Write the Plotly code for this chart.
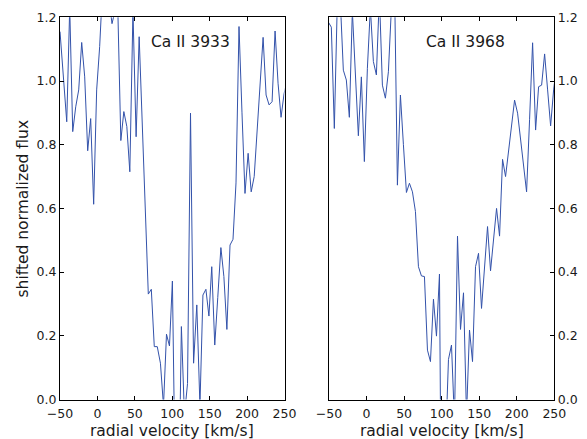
import plotly.graph_objects as go

# ---- data ----
v_3933 = [-50.0, -45.5, -41.0, -37.0, -33.0, -29.0, -25.0, -21.0, -17.0, -13.0,
          -9.0, -5.0, -1.0, 3.0, 7.0, 11.0, 15.5, 19.5, 23.5, 27.5,
          31.3, 35.3, 39.3, 43.3, 47.5, 51.7, 55.8, 59.8, 63.8, 68.0,
          72.0, 76.0, 80.0, 84.2, 88.3, 92.3, 96.3, 100.2, 104.2, 108.2,
          112.2, 116.3, 120.4, 124.4, 128.5, 132.8, 137.0, 141.0, 145.0, 149.0,
          152.8, 156.8, 160.8, 165.0, 169.0, 173.0, 177.2, 181.2, 185.2, 189.2,
          193.2, 197.2, 201.4, 205.5, 209.5, 213.4, 217.4, 221.4, 225.4, 229.4,
          233.4, 237.4, 241.4, 245.4, 249.4, 253.4]
flux_3933 = [1.155, 1.0, 0.872, 1.23, 0.841, 0.919, 0.972, 1.121, 1.013, 0.781,
             0.882, 0.613, 0.972, 1.108, 1.30, 1.35, 1.25, 1.18, 1.22, 1.20,
             0.813, 0.904, 0.857, 0.715, 1.22, 0.825, 1.139, 0.88, 0.60, 0.331,
             0.346, 0.166, 0.166, 0.114, -0.02, 0.205, 0.168, 0.372, -0.3, -0.4,
             0.229, -0.05, 0.05, 0.899, 0.114, 0.297, -0.02, 0.328, 0.346, 0.262,
             0.417, 0.171, 0.32, 0.477, 0.386, 0.22, 0.485, 0.503, 0.68, 1.171,
             0.90, 0.647, 0.773, 0.652, 0.70, 0.846, 0.993, 1.137, 0.956, 0.925,
             0.935, 1.157, 0.993, 0.886, 0.96, 1.0]

v_3968 = [-50.9, -46.9, -42.9, -38.9, -34.9, -30.9, -26.9, -22.9, -18.9, -14.9,
          -10.9, -6.9, -2.9, 1.1, 5.1, 9.1, 13.1, 17.1, 21.1, 25.1,
          29.1, 33.1, 37.1, 41.1, 45.1, 49.1, 53.1, 57.1, 61.1, 65.1,
          69.1, 73.1, 77.1, 81.1, 85.1, 89.1, 93.1, 97.1, 101.1, 105.1,
          109.1, 113.1, 117.1, 121.1, 125.1, 129.1, 133.1, 137.1, 141.1, 145.1,
          149.1, 153.1, 157.1, 161.1, 165.1, 169.1, 173.1, 177.1, 181.1, 185.1,
          189.1, 193.1, 197.1, 201.1, 205.1, 209.1, 213.1, 217.1, 221.1, 225.1,
          229.1, 233.1, 237.1, 241.1, 245.1, 249.1, 253.1]
flux_3968 = [1.185, 1.169, 0.851, 1.25, 1.25, 1.034, 1.003, 0.886, 1.22, 1.02,
             0.828, 1.013, 0.747, 1.04, 1.23, 1.061, 1.019, 1.27, 0.987, 0.946,
             1.029, 1.23, 1.33, 0.673, 0.956, 0.80, 0.65, 0.679, 0.652, 0.59,
             0.417, 0.388, 0.386, 0.155, 0.119, 0.315, 0.199, 0.394, -0.9, -0.15,
             0.126, 0.171, -0.07, 0.513, 0.22, 0.335, -0.05, 0.218, 0.119, 0.417,
             0.459, 0.286, 0.417, 0.543, 0.404, 0.511, 0.60, 0.513, 0.754, 0.70,
             0.778, 0.851, 0.94, 0.899, 0.815, 0.731, 0.652, 0.88, 1.12, 0.846,
             0.982, 0.987, 1.085, 0.972, 0.859, 0.972, 1.05]

panel_titles = ["Ca II 3933", "Ca II 3968"]
x_ticks = [-50, 0, 50, 100, 150, 200, 250]
y_ticks = [0.0, 0.2, 0.4, 0.6, 0.8, 1.0, 1.2]
x_label = "radial velocity [km/s]"
y_label = "shifted normalized flux"

# ---- styles ----
W, H = 587, 439
LINE = "#3352aa"
FONT = "DejaVu Sans"
TXT = "#1a1a1a"

fig = go.Figure()
fig.add_trace(go.Scatter(x=v_3933, y=flux_3933, mode="lines",
                         line=dict(color=LINE, width=1.0),
                         xaxis="x", yaxis="y", showlegend=False))
fig.add_trace(go.Scatter(x=v_3968, y=flux_3968, mode="lines",
                         line=dict(color=LINE, width=1.0),
                         xaxis="x2", yaxis="y2", showlegend=False))

def px2fx(p):
    return p / W

def py2fy(p):
    return 1 - p / H

xdom1 = [px2fx(60), px2fx(284.5)]
xdom2 = [px2fx(329), px2fx(554.3)]
ydom = [py2fy(399.5), py2fy(17.3)]

common_x = dict(range=[-50, 250], tickvals=x_ticks, ticks="inside", ticklen=4,
                tickwidth=1, tickcolor="black", showline=True, linecolor="black",
                linewidth=1, mirror="ticks", showgrid=False, zeroline=False,
                automargin=False, ticklabelstandoff=2,
                tickfont=dict(family=FONT, size=12.5, color=TXT))
common_y = dict(range=[0, 1.2], tickvals=y_ticks, tickformat=".1f", ticks="inside",
                ticklen=4, tickwidth=1, tickcolor="black", showline=True,
                linecolor="black", linewidth=1, mirror=True, showgrid=False,
                zeroline=False, automargin=False,
                tickfont=dict(family=FONT, size=12.5, color=TXT))

fig.update_layout(
    template="none",
    width=W, height=H,
    margin=dict(l=0, r=0, t=0, b=0, pad=0),
    paper_bgcolor="white", plot_bgcolor="white",
    xaxis=dict(domain=xdom1, anchor="y", **common_x),
    yaxis=dict(domain=ydom, anchor="x", side="left", **common_y),
    xaxis2=dict(domain=xdom2, anchor="y2", **common_x),
    yaxis2=dict(domain=ydom, anchor="x2", side="right", **common_y),
    font=dict(family=FONT, color=TXT),
)

ann = []
ann.append(dict(text=panel_titles[0], x=px2fx(191), y=py2fy(42), xref="paper", yref="paper",
                showarrow=False, font=dict(family=FONT, size=15.5, color=TXT),
                xanchor="center", yanchor="middle"))
ann.append(dict(text=panel_titles[1], x=px2fx(465.5), y=py2fy(42), xref="paper", yref="paper",
                showarrow=False, font=dict(family=FONT, size=15.5, color=TXT),
                xanchor="center", yanchor="middle"))
for cx in (172.2, 441.6):
    ann.append(dict(text=x_label, x=px2fx(cx), y=py2fy(431), xref="paper", yref="paper",
                    showarrow=False, font=dict(family=FONT, size=15.5, color=TXT),
                    xanchor="center", yanchor="middle"))
ann.append(dict(text=y_label, x=px2fx(22), y=py2fy(208.5), xref="paper", yref="paper",
                showarrow=False, textangle=-90, font=dict(family=FONT, size=15.5, color=TXT),
                xanchor="center", yanchor="middle"))
fig.update_layout(annotations=ann)

fig.write_html("out.html")
